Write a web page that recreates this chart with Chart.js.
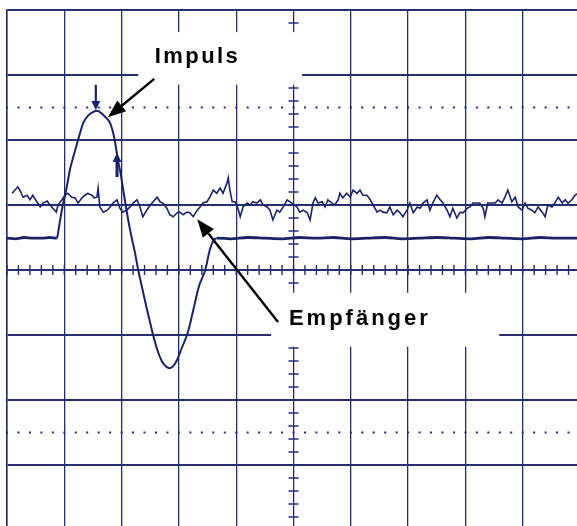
<!DOCTYPE html>
<html>
<head>
<meta charset="utf-8">
<script src="https://cdn.jsdelivr.net/npm/chart.js@4/dist/chart.umd.min.js"></script>
<style>
  html, body { margin: 0; padding: 0; background: #fff; overflow: hidden; }
  #wrap { position: relative; width: 590px; height: 540px; }
</style>
</head>
<body>
<div id="wrap"><canvas id="scope"></canvas></div>
<script>
// time in screen divisions (0..10), level in divisions (-4..4)
const pulseTime = [0, 0.15, 0.3, 0.45, 0.6, 0.75, 0.87, 0.90, 0.93, 0.97, 1.02, 1.05, 1.10, 1.17, 1.24, 1.33, 1.42, 1.50, 1.57,
  1.65, 1.72, 1.80, 1.88, 1.93, 1.98, 2.03, 2.08, 2.13, 2.18, 2.23, 2.29,
  2.35, 2.42, 2.50, 2.55, 2.62, 2.70, 2.78, 2.84, 2.90, 2.97, 3.05, 3.16, 3.25, 3.35, 3.46, 3.54, 3.60, 3.66,
  3.9, 4.2, 4.5, 4.8, 5.1, 5.4, 5.7, 6.0, 6.3, 6.6, 6.9, 7.2, 7.5, 7.8, 8.1, 8.4, 8.7, 9.0, 9.3, 9.6, 10];
const pulseLevel = [0.49, 0.48, 0.50, 0.49, 0.49, 0.50, 0.49, 0.62, 0.78, 0.98, 1.18, 1.31, 1.55, 1.78, 2.00, 2.26, 2.38, 2.43, 2.45,
  2.41, 2.35, 2.26, 2.00, 1.72, 1.50, 1.22, 0.95, 0.70, 0.48, 0.28, 0.00,
  -0.24, -0.52, -0.82, -1.00, -1.22, -1.40, -1.49, -1.51, -1.48, -1.38, -1.20, -0.95, -0.62, -0.25, 0.00, 0.31, 0.45, 0.49,
  0.48, 0.50, 0.49, 0.48, 0.50, 0.49, 0.50, 0.48, 0.49, 0.50, 0.48, 0.49, 0.50, 0.49, 0.48, 0.50, 0.49, 0.48, 0.50, 0.49, 0.49];

const rxTime = [0.09, 0.14, 0.19, 0.24, 0.28, 0.35, 0.40, 0.45, 0.52, 0.58, 0.63, 0.70, 0.75, 0.80, 0.86, 0.89, 0.96, 1.01, 1.06, 1.13,
  1.19, 1.24, 1.31, 1.36, 1.41, 1.48, 1.52, 1.57, 1.59, 1.62, 1.68, 1.75, 1.80, 1.85, 1.92, 1.97, 2.02, 2.09, 2.15, 2.20,
  2.27, 2.32, 2.37, 2.44, 2.50, 2.55, 2.62, 2.67, 2.72, 2.79, 2.84, 2.90, 2.97, 3.02, 3.07, 3.14, 3.19, 3.25, 3.32, 3.37,
  3.42, 3.49, 3.54, 3.60, 3.66, 3.72, 3.77, 3.84, 3.86, 3.89, 3.93, 3.98, 4.03, 4.07, 4.12, 4.19, 4.24, 4.29, 4.36, 4.42,
  4.47, 4.54, 4.59, 4.64, 4.71, 4.76, 4.82, 4.89, 4.97, 5.06, 5.11, 5.17, 5.24, 5.29, 5.34, 5.38, 5.43, 5.50, 5.55, 5.60,
  5.67, 5.72, 5.78, 5.81, 5.86, 5.93, 5.99, 6.04, 6.11, 6.16, 6.21, 6.28, 6.34, 6.39, 6.46, 6.51, 6.56, 6.63, 6.68, 6.74,
  6.81, 6.86, 6.91, 6.98, 7.03, 7.09, 7.16, 7.21, 7.26, 7.33, 7.38, 7.43, 7.50, 7.56, 7.61, 7.68, 7.73, 7.78, 7.85, 7.91,
  7.96, 8.03, 8.08, 8.13, 8.20, 8.25, 8.31, 8.34, 8.39, 8.46, 8.52, 8.57, 8.64, 8.69, 8.74, 8.81, 8.87, 8.92, 8.99, 9.04,
  9.09, 9.16, 9.21, 9.27, 9.34, 9.39, 9.44, 9.51, 9.56, 9.62, 9.69, 9.74, 9.79, 9.86, 9.91, 9.97];
const rxLevel = [1.18, 1.23, 1.28, 1.20, 1.12, 1.15, 1.08, 1.15, 1.05, 0.97, 1.03, 1.06, 1.00, 0.95, 0.89, 1.00, 1.08, 1.15, 1.18, 1.12,
  1.11, 1.03, 1.11, 1.15, 1.18, 1.15, 1.11, 1.12, 1.26, 0.97, 0.89, 0.92, 0.97, 1.03, 1.08, 0.95, 0.89, 0.92, 0.97, 1.03,
  1.08, 0.97, 0.82, 0.92, 1.00, 1.05, 1.12, 1.05, 1.03, 0.95, 0.85, 0.82, 0.88, 0.89, 0.85, 0.89, 0.88, 0.82, 0.92, 0.97,
  1.03, 1.05, 1.12, 1.23, 1.18, 1.26, 1.18, 1.34, 1.42, 1.23, 1.05, 1.05, 0.95, 0.82, 0.97, 1.03, 1.00, 1.05, 1.03, 1.08,
  1.00, 0.97, 0.92, 0.77, 0.92, 0.89, 0.97, 1.08, 1.03, 0.97, 0.89, 0.92, 0.88, 0.77, 1.03, 1.11, 1.03, 1.05, 0.97, 1.08,
  1.03, 1.00, 1.08, 1.18, 1.11, 1.18, 1.12, 1.23, 1.18, 1.23, 1.15, 1.15, 1.08, 1.00, 0.89, 0.92, 0.89, 0.88, 0.97, 0.85,
  0.92, 0.88, 0.82, 0.92, 1.03, 0.88, 0.97, 0.95, 1.03, 1.08, 0.92, 1.03, 1.15, 1.08, 1.03, 0.92, 0.82, 0.95, 0.80, 0.89,
  0.88, 0.95, 0.97, 1.03, 1.03, 1.03, 0.95, 0.82, 1.03, 1.03, 1.03, 1.08, 1.03, 1.12, 1.23, 1.05, 1.12, 0.97, 0.92, 1.03,
  0.95, 0.92, 0.88, 0.97, 0.89, 0.82, 1.00, 0.97, 1.03, 1.12, 1.03, 1.08, 1.03, 1.08, 1.15, 1.18];

// cursor markers: [time, from level, to level]
const cursorDown = [1.55, 2.85, 2.46];
const cursorUp = [1.92, 1.43, 1.80];

// labels: text, left x + baseline y, white box [x0, x1, yTop, yBottom], pointer [tail x, tail y, tip x, tip y]
const labelText = ['Impuls', 'Empfänger'];
const labelPos = [[2.58, 3.18], [4.92, -0.85]];
const labelBox = [[2.29, 5.15, 3.66, 2.85], [4.61, 8.59, -0.35, -1.18]];
const labelArrow = [[2.57, 2.94, 1.76, 2.35], [4.73, -0.80, 3.32, 0.78]];

const ink = '#1c2264';
const gridInk = '#262d70';

function arrow(ctx, x1, y1, x2, y2, len, half, lw, color) {
  const a = Math.atan2(y2 - y1, x2 - x1);
  const bx = x2 - Math.cos(a) * len, by = y2 - Math.sin(a) * len;
  ctx.strokeStyle = color;
  ctx.fillStyle = color;
  ctx.lineWidth = lw;
  ctx.beginPath();
  ctx.moveTo(x1, y1);
  ctx.lineTo(bx, by);
  ctx.stroke();
  ctx.beginPath();
  ctx.moveTo(x2, y2);
  ctx.lineTo(bx + Math.sin(a) * half, by - Math.cos(a) * half);
  ctx.lineTo(bx - Math.sin(a) * half, by + Math.cos(a) * half);
  ctx.closePath();
  ctx.fill();
}

const overlay = {
  id: 'overlay',
  beforeDatasetsDraw(chart) {
    const { ctx, scales: { x, y } } = chart;
    ctx.save();
    // dotted lines at +-2.5 div
    ctx.fillStyle = gridInk;
    [2.5, -2.5].forEach(v => {
      for (let k = 0; k <= 50; k++) {
        ctx.fillRect(x.getPixelForValue(k * 0.2) - 1, y.getPixelForValue(v) - 1, 2, 2);
      }
    });
    // minor ticks on the centre axes
    ctx.strokeStyle = gridInk;
    ctx.lineWidth = 1.4;
    const y0 = y.getPixelForValue(0), x0 = x.getPixelForValue(5);
    ctx.beginPath();
    for (let k = 0; k <= 50; k++) {
      const px = x.getPixelForValue(k * 0.2);
      ctx.moveTo(px, y0 - 5); ctx.lineTo(px, y0 + 5);
    }
    for (let k = 0; k <= 40; k++) {
      const py = y.getPixelForValue(-4 + k * 0.2);
      ctx.moveTo(x0 - 5, py); ctx.lineTo(x0 + 5, py);
    }
    ctx.stroke();
    // white boxes behind the labels
    ctx.fillStyle = '#ffffff';
    labelBox.forEach(b => {
      const l = x.getPixelForValue(b[0]), r = x.getPixelForValue(b[1]);
      const t = y.getPixelForValue(b[2]), btm = y.getPixelForValue(b[3]);
      ctx.fillRect(l, t, r - l, btm - t);
    });
    ctx.restore();
  },
  afterDatasetsDraw(chart) {
    const { ctx, scales: { x, y } } = chart;
    ctx.save();
    // scope cursors
    arrow(ctx, x.getPixelForValue(cursorDown[0]), y.getPixelForValue(cursorDown[1]),
      x.getPixelForValue(cursorDown[0]), y.getPixelForValue(cursorDown[2]), 9, 4.5, 2.2, ink);
    arrow(ctx, x.getPixelForValue(cursorUp[0]), y.getPixelForValue(cursorUp[1]),
      x.getPixelForValue(cursorUp[0]), y.getPixelForValue(cursorUp[2]), 9, 4.5, 3, ink);
    // labels and pointers
    ctx.fillStyle = '#000';
    ctx.font = 'bold 22px "Liberation Sans", Arial, sans-serif';
    ctx.textBaseline = 'alphabetic';
    labelText.forEach((t, i) => {
      ctx.letterSpacing = i === 0 ? '2.4px' : '3px';
      ctx.fillText(t, x.getPixelForValue(labelPos[i][0]), y.getPixelForValue(labelPos[i][1]));
      const a = labelArrow[i];
      arrow(ctx, x.getPixelForValue(a[0]), y.getPixelForValue(a[1]),
        x.getPixelForValue(a[2]), y.getPixelForValue(a[3]), 18, 7, 2.4, '#000');
    });
    ctx.restore();
  }
};

const pts = (xs, ys) => xs.map((t, i) => ({ x: t, y: ys[i] }));
// flat stretches of the pulse trace are drawn heavier, as on the screen
const flat = c => Math.abs(c.p0.parsed.y - 0.49) < 0.03 && Math.abs(c.p1.parsed.y - 0.49) < 0.03;

new Chart(document.getElementById('scope'), {
  type: 'scatter',
  data: {
    datasets: [
      {
        label: 'Empfänger',
        data: pts(rxTime, rxLevel),
        showLine: true,
        borderColor: ink,
        borderWidth: 1.6,
        pointRadius: 0,
        tension: 0
      },
      {
        label: 'Impuls',
        data: pts(pulseTime, pulseLevel),
        showLine: true,
        borderColor: ink,
        borderWidth: 2,
        segment: { borderWidth: c => flat(c) ? 2.8 : 2 },
        pointRadius: 0,
        cubicInterpolationMode: 'monotone'
      }
    ]
  },
  options: {
    responsive: true,
    maintainAspectRatio: false,
    animation: false,
    layout: { padding: { left: 7, top: 10, right: 10, bottom: 10 } },
    plugins: { legend: { display: false }, tooltip: { enabled: false } },
    scales: {
      x: {
        type: 'linear', min: 0, max: 10,
        ticks: { display: false, stepSize: 1 },
        grid: { color: gridInk, lineWidth: 1.3, drawTicks: false },
        border: { display: true, color: gridInk, width: 1.5 }
      },
      y: {
        type: 'linear', min: -4, max: 4,
        ticks: { display: false, stepSize: 1 },
        grid: { color: gridInk, lineWidth: 2, drawTicks: false },
        border: { display: true, color: gridInk, width: 1.5 }
      }
    }
  },
  plugins: [overlay]
});
</script>
</body>
</html>
